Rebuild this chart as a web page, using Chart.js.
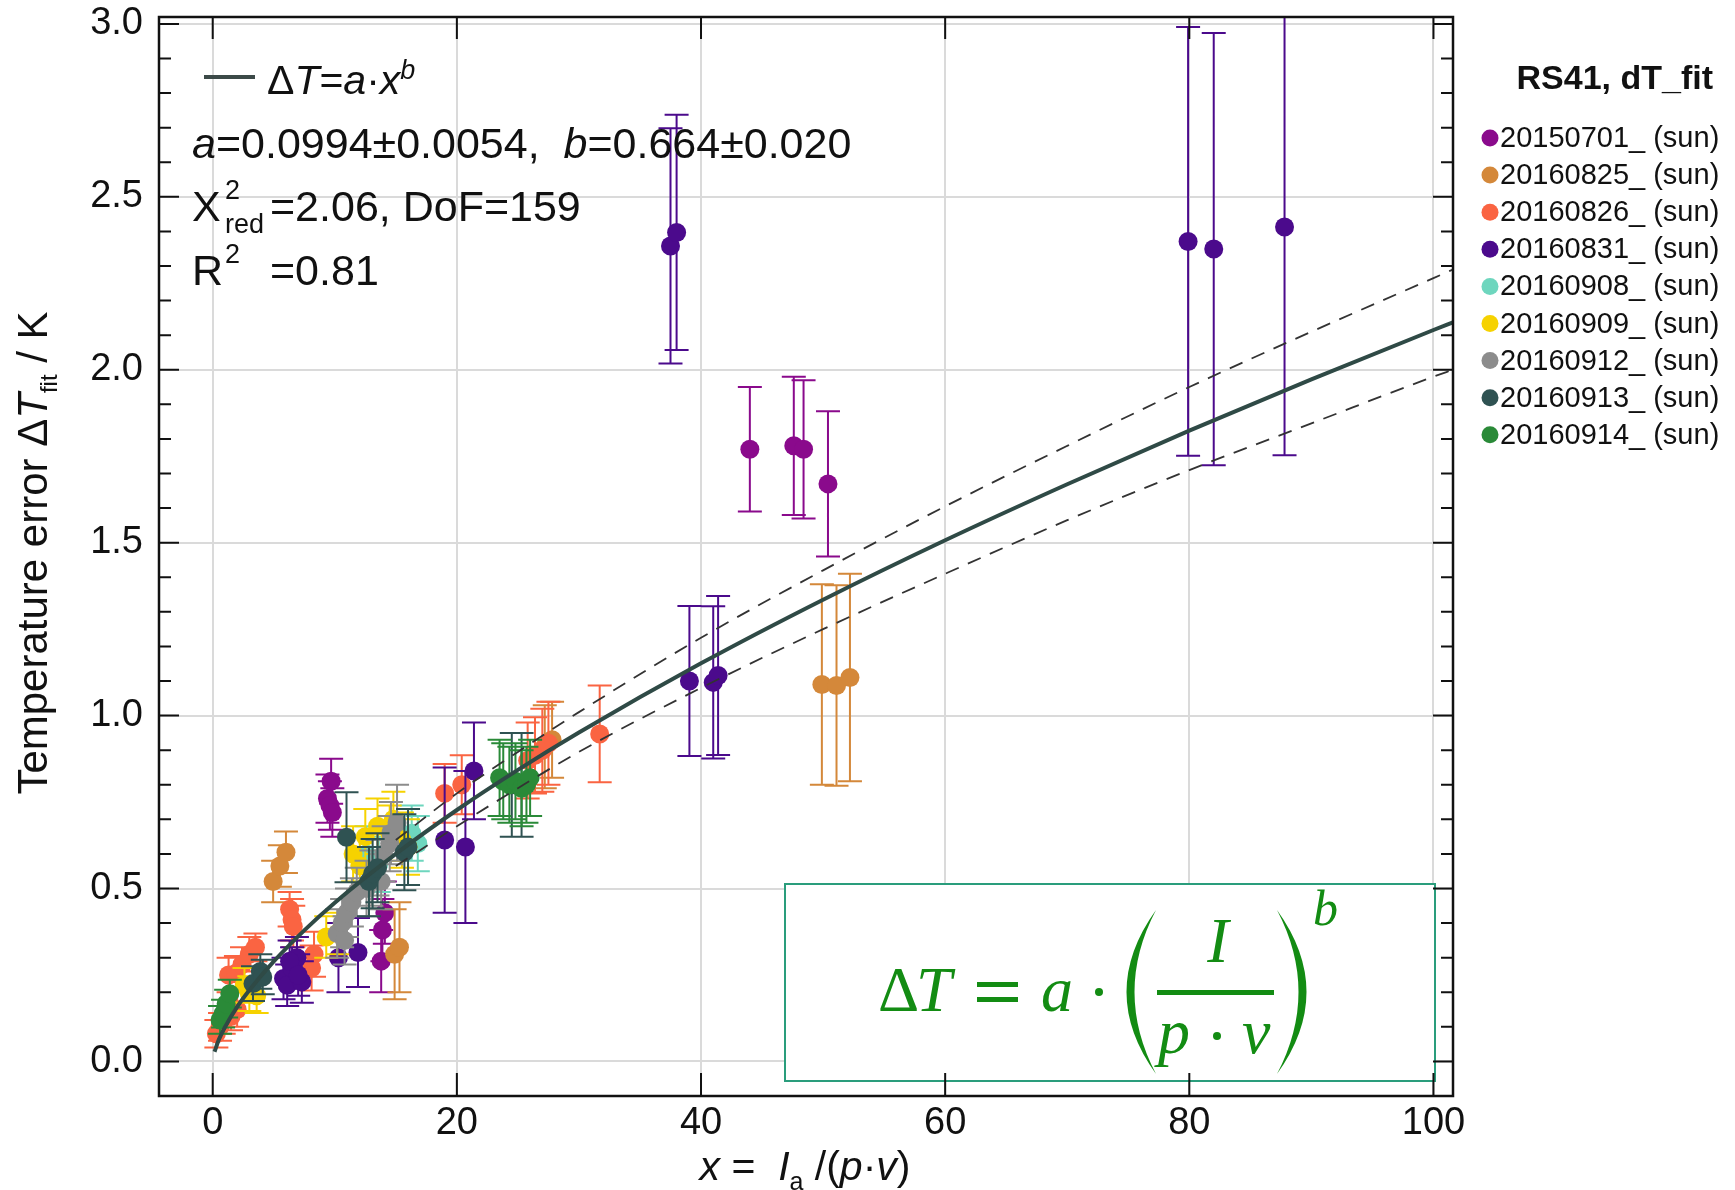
<!DOCTYPE html>
<html lang="en">
<head>
<meta charset="UTF-8">
<title>RS41 dT fit</title>
<script src="https://cdn.jsdelivr.net/npm/chart.js"></script>
<style>
  html, body { margin: 0; padding: 0; background: #fff; }
  canvas { display: block; }
</style>
</head>
<body>
<canvas id="fitChart" width="1735" height="1190"></canvas>
<script>
  // flight series (legend order)
  const seriesNames = ['20150701_ (sun)', '20160825_ (sun)', '20160826_ (sun)', '20160831_ (sun)',
    '20160908_ (sun)', '20160909_ (sun)', '20160912_ (sun)', '20160913_ (sun)', '20160914_ (sun)'];
  const seriesColors = ['#8a0a8c', '#d4883a', '#fa6442', '#4b0a8c', '#6ed6be', '#f6d200', '#8c8c8c', '#2f5252', '#2a8a38'];

  // x = I_a/(p*v), dT in K, 1-sigma error of dT
  const x150701 = [9.4, 9.6, 9.8, 9.7, 13.8, 13.9, 14.1, 44.0, 47.6, 48.4, 50.4];
  const y150701 = [0.76, 0.74, 0.72, 0.81, 0.29, 0.38, 0.43, 1.77, 1.78, 1.77, 1.67];
  const e150701 = [0.07, 0.07, 0.07, 0.065, 0.09, 0.09, 0.09, 0.18, 0.2, 0.2, 0.21];

  const x160825 = [4.95, 5.5, 6.0, 14.9, 15.3, 27.2, 27.8, 49.9, 51.1, 52.2];
  const y160825 = [0.52, 0.565, 0.605, 0.31, 0.33, 0.91, 0.93, 1.09, 1.087, 1.11];
  const e160825 = [0.06, 0.06, 0.06, 0.13, 0.13, 0.12, 0.11, 0.29, 0.29, 0.3];

  const x160826 = [0.3, 0.6, 0.9, 1.5, 2.0, 1.3, 1.9, 2.4, 3.0, 3.5, 6.3, 6.5, 6.6, 8.1, 8.3, 19.0, 20.4, 25.8, 26.4, 27.0, 27.5, 31.7];
  const y160826 = [0.08, 0.10, 0.12, 0.13, 0.15, 0.25, 0.255, 0.28, 0.31, 0.33, 0.44, 0.41, 0.39, 0.27, 0.31, 0.775, 0.80, 0.87, 0.885, 0.90, 0.92, 0.947];
  const e160826 = [0.04, 0.04, 0.04, 0.04, 0.05, 0.05, 0.05, 0.05, 0.05, 0.04, 0.05, 0.06, 0.06, 0.065, 0.065, 0.085, 0.085, 0.11, 0.11, 0.12, 0.12, 0.14];

  const x160831 = [5.8, 6.1, 6.5, 6.9, 7.3, 6.3, 7.0, 10.3, 11.9, 19.0, 20.7, 21.4, 37.5, 38.0, 39.05, 41.0, 41.4, 79.9, 82.0, 87.8];
  const y160831 = [0.24, 0.22, 0.27, 0.30, 0.23, 0.29, 0.25, 0.30, 0.315, 0.64, 0.62, 0.84, 2.358, 2.397, 1.10, 1.096, 1.116, 2.371, 2.349, 2.413];
  const e160831 = [0.06, 0.06, 0.06, 0.06, 0.06, 0.06, 0.06, 0.10, 0.10, 0.21, 0.22, 0.14, 0.34, 0.34, 0.217, 0.22, 0.23, 0.62, 0.625, 0.66];

  const x160908 = [12.6, 13.6, 16.3, 16.8];
  const y160908 = [0.60, 0.57, 0.66, 0.63];
  const e160908 = [0.08, 0.08, 0.08, 0.08];

  const x160909 = [2.6, 3.0, 3.6, 9.3, 10.2, 11.5, 12.05, 12.5, 13.5, 14.5, 14.8, 15.5, 16.0];
  const y160909 = [0.22, 0.196, 0.19, 0.36, 0.37, 0.60, 0.566, 0.65, 0.68, 0.66, 0.70, 0.64, 0.62];
  const e160909 = [0.05, 0.05, 0.05, 0.06, 0.06, 0.08, 0.08, 0.08, 0.08, 0.08, 0.08, 0.08, 0.08];

  const x160912 = [10.2, 10.6, 10.8, 11.0, 11.4, 11.8, 12.6, 13.0, 13.5, 13.8, 14.0, 14.5, 14.6, 15.1];
  const y160912 = [0.37, 0.40, 0.35, 0.43, 0.46, 0.49, 0.50, 0.53, 0.56, 0.52, 0.60, 0.63, 0.66, 0.69];
  const e160912 = [0.07, 0.07, 0.07, 0.07, 0.07, 0.07, 0.08, 0.08, 0.08, 0.08, 0.08, 0.08, 0.09, 0.11];

  const x160913 = [3.3, 3.9, 4.1, 10.96, 12.8, 13.1, 13.5, 15.7, 16.0, 24.5, 25.3];
  const y160913 = [0.225, 0.26, 0.244, 0.648, 0.52, 0.543, 0.56, 0.605, 0.62, 0.80, 0.80];
  const e160913 = [0.05, 0.05, 0.05, 0.13, 0.1, 0.1, 0.1, 0.11, 0.11, 0.15, 0.15];

  const x160914 = [0.6, 0.85, 1.1, 1.4, 23.5, 23.8, 24.3, 24.8, 25.3, 25.7, 26.0];
  const y160914 = [0.12, 0.138, 0.167, 0.196, 0.82, 0.81, 0.80, 0.81, 0.79, 0.80, 0.82];
  const e160914 = [0.04, 0.04, 0.04, 0.04, 0.11, 0.11, 0.11, 0.11, 0.11, 0.11, 0.11];

  const seriesX = [x150701, x160825, x160826, x160831, x160908, x160909, x160912, x160913, x160914];
  const seriesY = [y150701, y160825, y160826, y160831, y160908, y160909, y160912, y160913, y160914];
  const seriesErr = [e150701, e160825, e160826, e160831, e160908, e160909, e160912, e160913, e160914];

  // fitted curve dT = a*x^b (a=0.0994, b=0.664) and its confidence band
  const fitX = [0.15, 0.5, 1, 2, 3, 5, 7.5, 10, 15, 20, 25, 30, 40, 50, 60, 70, 80, 90, 100, 101.6];
  const fitY = [0.028, 0.063, 0.099, 0.158, 0.206, 0.289, 0.379, 0.459, 0.600, 0.727, 0.843, 0.951, 1.151, 1.335, 1.507, 1.669, 1.824, 1.972, 2.115, 2.137];
  const bandX = [15, 20, 25, 30, 40, 50, 60, 70, 80, 90, 100, 101.6];
  const bandUpper = [0.64, 0.775, 0.895, 1.01, 1.225, 1.42, 1.605, 1.78, 1.95, 2.11, 2.265, 2.29];
  const bandLower = [0.565, 0.68, 0.79, 0.895, 1.08, 1.25, 1.41, 1.565, 1.71, 1.845, 1.98, 2.0];

  const xTicks = [0, 20, 40, 60, 80, 100];

  const SANS = '"Liberation Sans", Arial, Helvetica, sans-serif';
  const SERIF = '"Liberation Serif", "DejaVu Serif", serif';
  const pts = (xs, ys) => xs.map((v, i) => ({ x: v, y: ys[i] }));

  const datasets = seriesNames.map((name, i) => ({
    label: name,
    data: pts(seriesX[i], seriesY[i]),
    errors: seriesErr[i],
    backgroundColor: seriesColors[i],
    borderColor: seriesColors[i],
    borderWidth: 0,
    pointRadius: 9.5,
    order: 20 - i
  }));
  datasets.push({
    label: 'fit', data: pts(fitX, fitY), showLine: true, pointRadius: 0,
    borderColor: '#2f4a46', borderWidth: 4, cubicInterpolationMode: 'monotone', order: 1
  });
  [bandUpper, bandLower].forEach((b, k) => datasets.push({
    label: k ? 'lower' : 'upper', data: pts(bandX, b), showLine: true, pointRadius: 0,
    borderColor: '#333', borderWidth: 1.8, borderDash: [14, 10], cubicInterpolationMode: 'monotone', order: 0
  }));

  function drawRuns(ctx, runs, x, y) {
    runs.forEach(r => {
      ctx.font = r.font;
      ctx.fillText(r.text, x, y + (r.dy || 0));
      x += ctx.measureText(r.text).width;
    });
    return x;
  }
  function runsWidth(ctx, runs) {
    return runs.reduce((w, r) => { ctx.font = r.font; return w + ctx.measureText(r.text).width; }, 0);
  }

  // vertical error bars with caps, drawn just before each series' markers
  const errorBars = {
    id: 'errorBars',
    beforeDatasetDraw(chart, args) {
      const ds = chart.data.datasets[args.index];
      if (!ds.errors) return;
      const { ctx, chartArea: a, scales: { x, y } } = chart;
      ctx.save();
      ctx.beginPath();
      ctx.rect(a.left, a.top, a.width, a.height);
      ctx.clip();
      ctx.strokeStyle = ds.borderColor;
      ctx.lineWidth = 2;
      ctx.beginPath();
      ds.data.forEach((p, i) => {
        const px = x.getPixelForValue(p.x);
        const lo = y.getPixelForValue(p.y - ds.errors[i]);
        const hi = y.getPixelForValue(p.y + ds.errors[i]);
        ctx.moveTo(px, lo); ctx.lineTo(px, hi);
        ctx.moveTo(px - 12, lo); ctx.lineTo(px + 12, lo);
        ctx.moveTo(px - 12, hi); ctx.lineTo(px + 12, hi);
      });
      ctx.stroke();
      ctx.restore();
    }
  };

  const decorations = {
    id: 'decorations',
    afterDatasetsDraw(chart) {
      const { ctx, chartArea: a, scales: { x, y } } = chart;
      ctx.save();

      // formula box
      ctx.fillStyle = '#fff';
      ctx.fillRect(785, 884, 650, 197);
      ctx.strokeStyle = '#2a9d7c';
      ctx.lineWidth = 2;
      ctx.strokeRect(785, 884, 650, 197);
      ctx.fillStyle = '#138c13';
      ctx.textBaseline = 'alphabetic';
      ctx.textAlign = 'left';
      ctx.font = `64px ${SERIF}`;
      ctx.fillText('Δ', 878, 1011);
      ctx.font = `italic 64px ${SERIF}`;
      ctx.fillText('T', 916, 1011);
      ctx.fillRect(977, 982, 41, 5);
      ctx.fillRect(977, 997, 41, 5);
      ctx.fillText('a', 1041, 1011);
      ctx.beginPath(); ctx.arc(1099, 992, 4, 0, Math.PI * 2); ctx.fill();
      // tall parentheses
      ctx.beginPath();
      ctx.moveTo(1156, 910); ctx.quadraticCurveTo(1097, 992, 1156, 1074);
      ctx.quadraticCurveTo(1113, 992, 1156, 910); ctx.fill();
      ctx.beginPath();
      ctx.moveTo(1277, 910); ctx.quadraticCurveTo(1336, 992, 1277, 1074);
      ctx.quadraticCurveTo(1320, 992, 1277, 910); ctx.fill();
      ctx.fillRect(1157, 990, 117, 5);
      ctx.textAlign = 'center';
      ctx.fillText('I', 1218, 962);
      ctx.textAlign = 'left';
      ctx.fillText('p', 1158, 1053);
      ctx.beginPath(); ctx.arc(1217, 1036, 4, 0, Math.PI * 2); ctx.fill();
      ctx.fillText('v', 1242, 1053);
      ctx.font = `italic 50px ${SERIF}`;
      ctx.fillText('b', 1313, 925);

      // inward tick marks and frame
      ctx.strokeStyle = '#111';
      ctx.lineWidth = 2;
      ctx.beginPath();
      xTicks.forEach(v => {
        const px = x.getPixelForValue(v);
        ctx.moveTo(px, a.bottom); ctx.lineTo(px, a.bottom - 23);
        ctx.moveTo(px, a.top); ctx.lineTo(px, a.top + 22);
      });
      for (let k = 0; k <= 30; k++) {
        const py = y.getPixelForValue(k / 10);
        const len = k % 5 === 0 ? 20 : 12;
        ctx.moveTo(a.left, py); ctx.lineTo(a.left + len, py);
        ctx.moveTo(a.right, py); ctx.lineTo(a.right - len, py);
      }
      ctx.stroke();
      ctx.lineWidth = 2.5;
      ctx.strokeRect(a.left, a.top, a.width, a.height);
      ctx.restore();
    },
    afterDraw(chart) {
      const { ctx } = chart;
      ctx.save();
      ctx.fillStyle = '#111';
      ctx.textBaseline = 'alphabetic';
      ctx.textAlign = 'left';
      const f = `43px ${SANS}`, fi = `italic 43px ${SANS}`, fs = `27px ${SANS}`, fsi = `italic 27px ${SANS}`;

      // fit annotation
      ctx.strokeStyle = '#3c4a48';
      ctx.lineWidth = 4;
      ctx.beginPath(); ctx.moveTo(204, 77); ctx.lineTo(255, 77); ctx.stroke();
      drawRuns(ctx, [{ text: 'Δ', font: `41px ${SANS}` }, { text: 'T', font: `italic 41px ${SANS}` }, { text: '=', font: `41px ${SANS}` },
        { text: 'a', font: `italic 41px ${SANS}` }, { text: '·', font: `41px ${SANS}` }, { text: 'x', font: `italic 41px ${SANS}` },
        { text: 'b', font: fsi, dy: -15 }], 267, 94);
      drawRuns(ctx, [{ text: 'a', font: fi }, { text: '=0.0994±0.0054,  ', font: f },
        { text: 'b', font: fi }, { text: '=0.664±0.020', font: f }], 192, 158);
      ctx.font = f; ctx.fillText('Χ', 192, 221);
      ctx.font = fs; ctx.fillText('2', 225, 199); ctx.fillText('red', 225, 233);
      ctx.font = f; ctx.fillText('=2.06, DoF=159', 270, 221);
      ctx.fillText('R', 192, 285);
      ctx.font = fs; ctx.fillText('2', 225, 263);
      ctx.font = f; ctx.fillText('=0.81', 270, 285);

      // axis titles
      const xt = [{ text: 'x', font: `italic 41px ${SANS}` }, { text: ' =  ', font: `41px ${SANS}` },
        { text: 'I', font: `italic 41px ${SANS}` }, { text: 'a', font: `25px ${SANS}`, dy: 10 },
        { text: ' /(', font: `41px ${SANS}` }, { text: 'p', font: `italic 41px ${SANS}` },
        { text: '·', font: `41px ${SANS}` }, { text: 'v', font: `italic 41px ${SANS}` }, { text: ')', font: `41px ${SANS}` }];
      drawRuns(ctx, xt, 805 - runsWidth(ctx, xt) / 2, 1180);

      const yt = [{ text: 'Temperature error Δ', font: `42px ${SANS}` }, { text: 'T', font: `italic 42px ${SANS}` },
        { text: 'fit', font: `24px ${SANS}`, dy: 10 }, { text: ' / K', font: `42px ${SANS}` }];
      ctx.save();
      ctx.translate(47, 553);
      ctx.rotate(-Math.PI / 2);
      drawRuns(ctx, yt, -runsWidth(ctx, yt) / 2, 0);
      ctx.restore();

      // legend
      ctx.textBaseline = 'middle';
      ctx.textAlign = 'right';
      ctx.font = `bold 34px ${SANS}`;
      ctx.fillText('RS41, dT_fit', 1713, 80);
      ctx.textAlign = 'left';
      ctx.font = `29px ${SANS}`;
      seriesNames.forEach((name, i) => {
        const cy = 138 + i * 37.1;
        ctx.fillStyle = seriesColors[i];
        ctx.beginPath(); ctx.arc(1490, cy, 8.5, 0, Math.PI * 2); ctx.fill();
        ctx.fillStyle = '#111';
        ctx.fillText(name, 1500, cy + 1);
      });
      ctx.restore();
    }
  };

  new Chart(document.getElementById('fitChart'), {
    type: 'scatter',
    data: { datasets },
    options: {
      responsive: false,
      animation: false,
      devicePixelRatio: 1,
      layout: { padding: { top: 17, right: 282, left: 0, bottom: 0 } },
      plugins: { legend: { display: false }, tooltip: { enabled: false } },
      scales: {
        x: {
          type: 'linear', min: -4.4, max: 101.6,
          border: { display: false },
          grid: { color: '#dadada', lineWidth: 2, drawTicks: false },
          ticks: { stepSize: 20, includeBounds: false, padding: 5, color: '#111', font: { family: SANS, size: 38 } },
          afterFit(s) { s.height = 94; s.paddingLeft = 0; s.paddingRight = 0; }
        },
        y: {
          type: 'linear', min: -0.1, max: 3.02,
          border: { display: false },
          grid: { color: '#dadada', lineWidth: 2, drawTicks: false },
          ticks: {
            stepSize: 0.5, includeBounds: false, padding: 16, color: '#111',
            font: { family: SANS, size: 38 },
            callback: v => v.toFixed(1)
          },
          afterFit(s) { s.width = 159; s.paddingTop = 0; s.paddingBottom = 0; }
        }
      }
    },
    plugins: [errorBars, decorations]
  });
</script>
</body>
</html>
